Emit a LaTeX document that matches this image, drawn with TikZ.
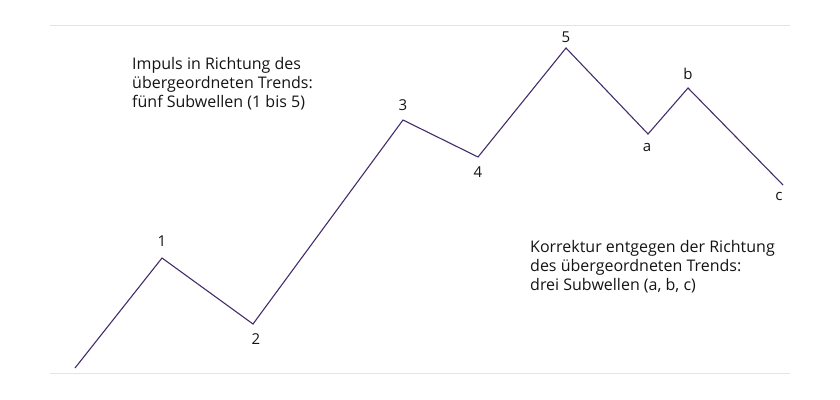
\documentclass[tikz,border=0pt]{standalone}
\usepackage{fontspec}
\setmainfont{Open Sans}
\usepackage{tikz}
\usetikzlibrary{positioning}
\definecolor{wavepurple}{RGB}{68,44,106}
\definecolor{rulegray}{RGB}{228,228,228}
\definecolor{textdark}{RGB}{20,20,20}
\tikzset{
  wave/.style={draw=wavepurple, line width=1.1pt, line join=miter},
  rule/.style={draw=rulegray, line width=0.9pt},
  ptlabel/.style={font=\fontsize{15}{17}\selectfont, text=textdark, inner sep=0pt},
  note/.style={align=left, anchor=north west, font=\fontsize{16}{19.3}\selectfont,
    text=textdark, inner sep=0pt}
}

\begin{document}
\begin{tikzpicture}[x=1pt, y=-1pt]
  \useasboundingbox (0,0) rectangle (840,399);

  % Rules
  \draw[rule] (50,25) -- (790,25);
  \draw[rule] (50,373) -- (790,373);

  % Wave points
  \coordinate (p0) at (75,368);
  \coordinate (p1) at (162,258);
  \coordinate (p2) at (253,324);
  \coordinate (p3) at (403,120);
  \coordinate (p4) at (478,157);
  \coordinate (p5) at (566,48);
  \coordinate (pa) at (648,134);
  \coordinate (pb) at (688,88);
  \coordinate (pc) at (783,185);
  \draw[wave] (p0) -- (p1) -- (p2) -- (p3) -- (p4) -- (p5) -- (pa) -- (pb) -- (pc);

  % Labels
  \node[ptlabel] (l1) at (162,241) {1};
  \node[ptlabel] (l2) at (256,339) {2};
  \node[ptlabel] (l3) at (403,105) {3};
  \node[ptlabel] (l4) at (478,172) {4};
  \node[ptlabel] (l5) at (566,37) {5};
  \node[ptlabel] (la) at (647,147) {a};
  \node[ptlabel] (lb) at (688,74) {b};
  \node[ptlabel] (lc) at (779,196) {c};

  % Notes
  \node[note] (impuls) at (132,57) {Impuls in Richtung des\\übergeordneten Trends:\\fünf Subwellen (1 bis 5)};
  \node[note] (korrektur) at (530,240) {Korrektur entgegen der Richtung\\des übergeordneten Trends:\\drei Subwellen (a, b, c)};
\end{tikzpicture}
\end{document}
